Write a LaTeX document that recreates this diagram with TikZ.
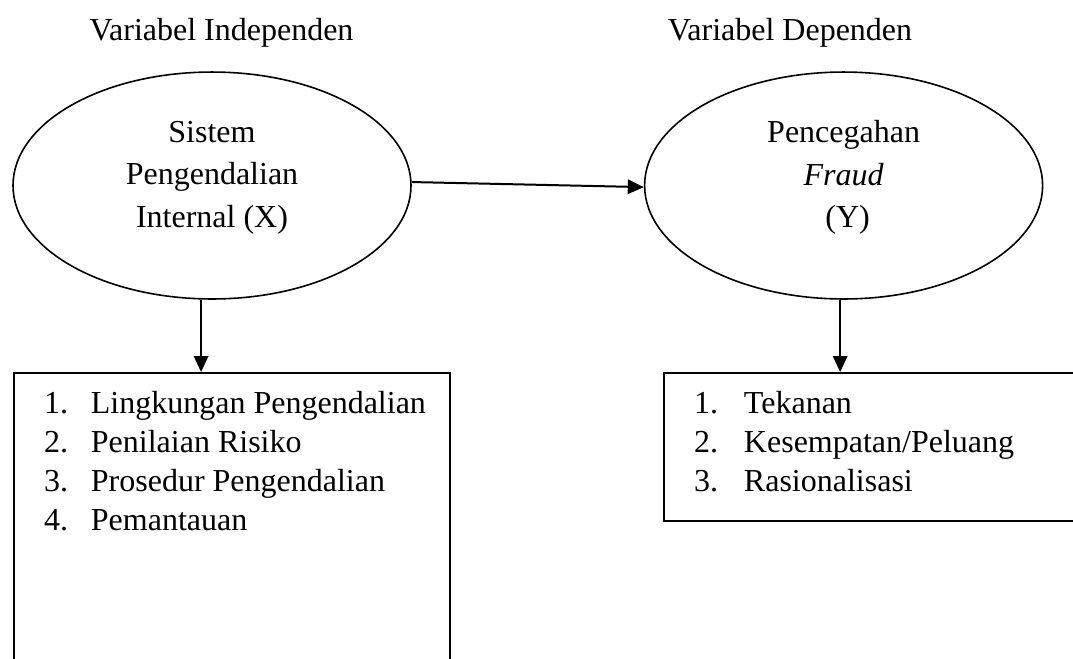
\documentclass[tikz,border=0pt]{standalone}
\usepackage{fontspec}
\setmainfont{Liberation Serif}
\usetikzlibrary{arrows.meta,positioning,shapes.geometric}

\begin{document}
\begin{tikzpicture}[x=0.375pt, y=-0.375pt, ->, >={Triangle[length=6pt, width=5.4pt]}, line width=0.75pt, node distance=87pt,
  main/.style = {draw, ellipse, line width=0.6pt, minimum width=149.25pt, minimum height=85.1pt, inner sep=0pt, align=center, font=\fontsize{12}{15.9}\selectfont, text depth=8.6pt},
  listbox/.style = {draw, anchor=north west, minimum width=163.5pt, inner sep=0pt},
  items/.style = {anchor=north west, align=left, inner sep=0pt, font=\fontsize{12}{14.6}\selectfont},
  title/.style = {anchor=base, font=\fontsize{12}{14.6}\selectfont}]
  \useasboundingbox (0,0) rectangle (1073,658);
  \clip (0,0) rectangle (1073,658);

  % Variables
  \node[main] (sip) at (212,185.5) {Sistem\\Pengendalian\\Internal (X)};
  \node[main] (fraud) [right=of sip] {Pencegahan\\\textit{Fraud}\\~(Y)};

  % Titles
  \node[title] (t_ind) at (221.5,40) {Variabel Independen};
  \node[title] (t_dep) at (790,40) {Variabel Dependen};

  % Indicator boxes
  \node[listbox, minimum height=123pt] (ind_x) at (13,372) {};
  \node[listbox, minimum height=55.5pt] (ind_y) at (663,372) {};
  \node[items] (list_x) [below right=6.8pt and 11.25pt of ind_x.north west]
    {\makebox[17.6pt][l]{1.}Lingkungan Pengendalian\\
     \makebox[17.6pt][l]{2.}Penilaian Risiko\\
     \makebox[17.6pt][l]{3.}Prosedur Pengendalian\\
     \makebox[17.6pt][l]{4.}Pemantauan};
  \node[items] (list_y) [below right=6.8pt and 11.25pt of ind_y.north west]
    {\makebox[18.75pt][l]{1.}Tekanan\\
     \makebox[18.75pt][l]{2.}Kesempatan/Peluang\\
     \makebox[18.75pt][l]{3.}Rasionalisasi};

  % Paths
  \draw ([yshift=1.3pt]sip.east) -- ([yshift=-0.6pt]fraud.west);
  \draw ([xshift=-4.1pt]sip.south) -- ([xshift=-4.1pt]sip.south |- ind_x.north);
  \draw ([xshift=-1.3pt]fraud.south) -- ([xshift=-1.3pt]fraud.south |- ind_y.north);
\end{tikzpicture}
\end{document}
